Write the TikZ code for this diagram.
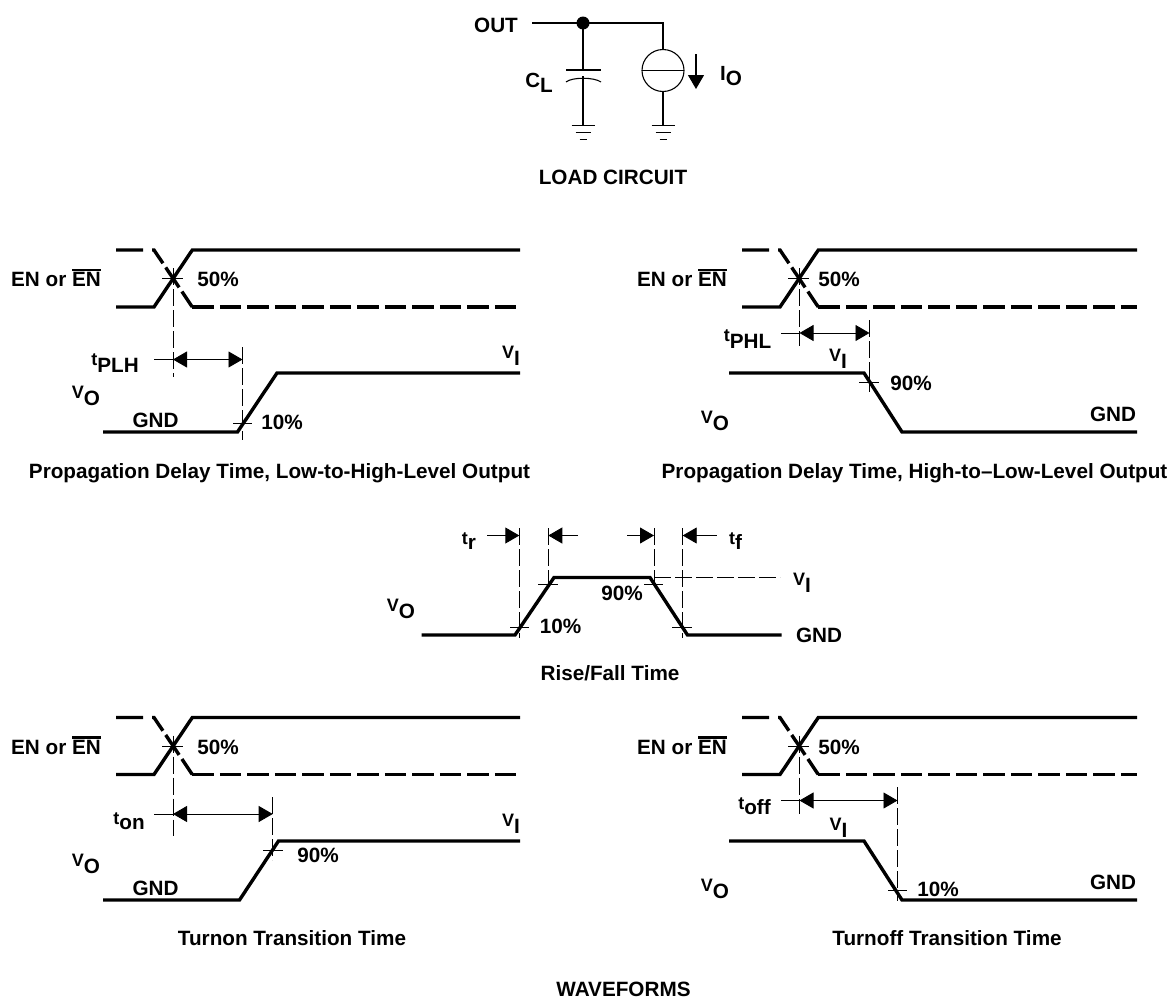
\documentclass[tikz,border=0pt]{standalone}
\usepackage{fontspec}
\setmainfont{Liberation Sans}
\usetikzlibrary{arrows.meta}
\newcommand{\lowsub}[3][7]{{\fontsize{18}{18}\selectfont #2}\raisebox{-#1pt}{#3}}
\newcommand{\barred}[1]{\leavevmode\vbox{\hrule height 2.5pt \kern 1.2pt \hbox{#1}}}
\tikzset{
  wave/.style={line width=3.4pt,line join=miter},
  waveend/.style={wave,dash pattern=on 27pt off 9pt on 18pt off 5pt on 24pt off 5pt on 19pt off 0pt},
  waveflat/.style={wave,dash pattern=on 21.5pt off 6pt},
  guide/.style={line width=0.9pt,dash pattern=on 17pt off 4pt},
  tick/.style={line width=0.9pt},
  wire/.style={line width=1.1pt},
  timing/.style={line width=0.9pt,-{Triangle[length=14pt,width=16pt]}},
  lbl/.style={anchor=base,inner sep=0pt,font=\bfseries\fontsize{20.7}{20.7}\selectfont}
}
\begin{document}
\begin{tikzpicture}[x=1pt,y=-1pt]
\useasboundingbox (0,0) rectangle (1171,999);
% load circuit
\fill (583,23) circle (6.5);
\draw[wire] (532,23) -- (663,23) -- (663,49.5);
\draw[wire] (583,23) -- (583,70);
\draw[wire] (566,70) -- (601,70);
\draw[wire] (566,82) .. controls (572,77) and (594,77) .. (601,82);
\draw[wire] (583,76) -- (583,125.5);
\draw[wire] (663,91.5) -- (663,125.5);
\draw[wire] (663,70.5) circle (21);
\draw[wire] (642,70.5) -- (684,70.5);
\draw[wire,-{Triangle[length=14pt,width=16pt]}] (696,54) -- (696,89);
\foreach \gx in {583,663} {
  \draw[wire] (\gx-11.5,125.5) -- (\gx+11.5,125.5);
  \draw[wire] (\gx-7.5,132.5) -- (\gx+7.5,132.5);
  \draw[wire] (\gx-3.5,139.5) -- (\gx+3.5,139.5);
}
\node[lbl] (out) at (496,32) {OUT};
\node[lbl] (cl) at (539,87) {\lowsub[5]{\fontsize{20.5}{20.5}\selectfont C}{L}};
\node[lbl] (io) at (731,80) {\lowsub[5]{\fontsize{20.5}{20.5}\selectfont I}{O}};
\node[lbl] (loadtitle) at (613,184) {LOAD CIRCUIT};
% enable waveforms
\foreach \n/\dx/\dy/\xe/\px in {a/0/0/520/218,b/626/0/511/213,c/0/467.5/520/218,d/626/467.5/511/213} {
  \begin{scope}[shift={(\dx,\dy)}]
  \draw[wave] (116,307) -- (154,307) -- (192.3,250) -- (\xe,250);
  \draw[waveend] (116,250) -- (154,250) -- (192.3,307);
  \draw[waveflat] (192.3,307) -- (\xe,307);
  \draw[tick] (162,278.5) -- (183,278.5);
  \node[lbl] (en\n) at (56,286.5) {EN or \barred{EN}};
  \node[lbl] (half\n) at (\px,286.5) {50\%};
  \end{scope}
}
% propagation delay, low to high
\draw[guide] (173,268) -- (173,377);
\draw[guide] (242.5,347) -- (242.5,440);
\draw[tick] (154,359.5) -- (173,359.5);
\draw[timing] (187,359.5) -- (242.5,359.5);
\draw[timing] (229,359.5) -- (173,359.5);
\draw[wave] (103,432) -- (237.5,432) -- (277,373) -- (520,373);
\draw[tick] (233,423) -- (252,423);
\node[lbl] (tplh) at (115,365) {\lowsub{t}{PLH}};
\node[lbl] (vola) at (86,398) {\lowsub{V}{O}};
\node[lbl] (gnda) at (155.5,427) {GND};
\node[lbl] (pcta) at (282,429.5) {10\%};
\node[lbl] (via) at (511,358) {\lowsub{V}{I}};
\node[lbl] (titlea) at (279.5,478) {Propagation Delay Time, Low-to-High-Level Output};
% propagation delay, high to low
\draw[guide] (799.5,268) -- (799.5,346);
\draw[guide] (869,320) -- (869,392);
\draw[tick] (781,333) -- (799.5,333);
\draw[timing] (813,333) -- (869.5,333);
\draw[timing] (856,333) -- (799.5,333);
\draw[wave] (729,373) -- (864,373) -- (902,432) -- (1137,432);
\draw[tick] (859,382.5) -- (879,382.5);
\node[lbl] (tphl) at (747.5,341) {\lowsub{t}{PHL}};
\node[lbl] (vib) at (838,361) {\lowsub{V}{I}};
\node[lbl] (pctb) at (911,390) {90\%};
\node[lbl] (volb) at (715,423) {\lowsub{V}{O}};
\node[lbl] (gndb) at (1113,421.5) {GND};
\node[lbl] (titleb) at (914.5,478) {Propagation Delay Time, High-to--Low-Level Output};
% rise and fall
\draw[wave] (421.5,635) -- (515,635) -- (554,577.5) -- (650,577.5) -- (687.5,635) -- (781.5,635);
\draw[guide] (519.3,528) -- (519.3,638);
\draw[guide] (548.3,528) -- (548.3,585);
\draw[guide] (654,528) -- (654,585);
\draw[guide] (682.7,528) -- (682.7,638);
\draw[guide] (654,577.5) -- (780,577.5);
\draw[timing] (487,535.5) -- (519.3,535.5);
\draw[timing] (578,535.5) -- (548.3,535.5);
\draw[timing] (627,535.5) -- (654,535.5);
\draw[timing] (716.5,535.5) -- (682.7,535.5);
\draw[tick] (510,627) -- (529,627);
\draw[tick] (672,627) -- (692,627);
\draw[tick] (538,584) -- (558,584);
\draw[tick] (644,584) -- (663,584);
\node[lbl] (tr) at (469,544) {\lowsub[5]{t}{r}};
\node[lbl] (tf) at (735.5,544) {\lowsub[5]{t}{f}};
\node[lbl] (vic) at (802,585) {\lowsub{V}{I}};
\node[lbl] (volc) at (401,611) {\lowsub{V}{O}};
\node[lbl] (pctc) at (622,600) {90\%};
\node[lbl] (pctd) at (560.5,633) {10\%};
\node[lbl] (gndc) at (819,642) {GND};
\node[lbl] (titlec) at (610,680) {Rise/Fall Time};
% turn on
\draw[guide] (173,735.5) -- (173,836);
\draw[guide] (272.7,797) -- (272.7,860);
\draw[tick] (154,814) -- (173,814);
\draw[timing] (187,814) -- (272.7,814);
\draw[timing] (259,814) -- (173,814);
\draw[wave] (103,900) -- (239.5,900) -- (278.5,841) -- (520,841);
\draw[tick] (263,850.5) -- (283,850.5);
\node[lbl] (ton) at (129,824) {\lowsub[5]{t}{on}};
\node[lbl] (vole) at (86,866) {\lowsub{V}{O}};
\node[lbl] (gnde) at (155.5,895) {GND};
\node[lbl] (pcte) at (318,862) {90\%};
\node[lbl] (vie) at (511,826) {\lowsub{V}{I}};
\node[lbl] (titlee) at (292,945.5) {Turnon Transition Time};
% turn off
\draw[guide] (799.5,735.5) -- (799.5,814);
\draw[guide] (897.5,787) -- (897.5,901);
\draw[tick] (781,800.5) -- (799.5,800.5);
\draw[timing] (813,800.5) -- (897.5,800.5);
\draw[timing] (884,800.5) -- (799.5,800.5);
\draw[wave] (729,841) -- (864,841) -- (902,900) -- (1137,900);
\draw[tick] (888,890.5) -- (907,890.5);
\node[lbl] (toff) at (754.5,809) {\lowsub[5]{t}{off}};
\node[lbl] (vif) at (838.5,830) {\lowsub{V}{I}};
\node[lbl] (pctf) at (938,896.5) {10\%};
\node[lbl] (volf) at (715,891) {\lowsub{V}{O}};
\node[lbl] (gndf) at (1113,889) {GND};
\node[lbl] (titlef) at (947,945.5) {Turnoff Transition Time};
\node[lbl] (wavetitle) at (623.5,996.5) {WAVEFORMS};
\end{tikzpicture}
\end{document}
